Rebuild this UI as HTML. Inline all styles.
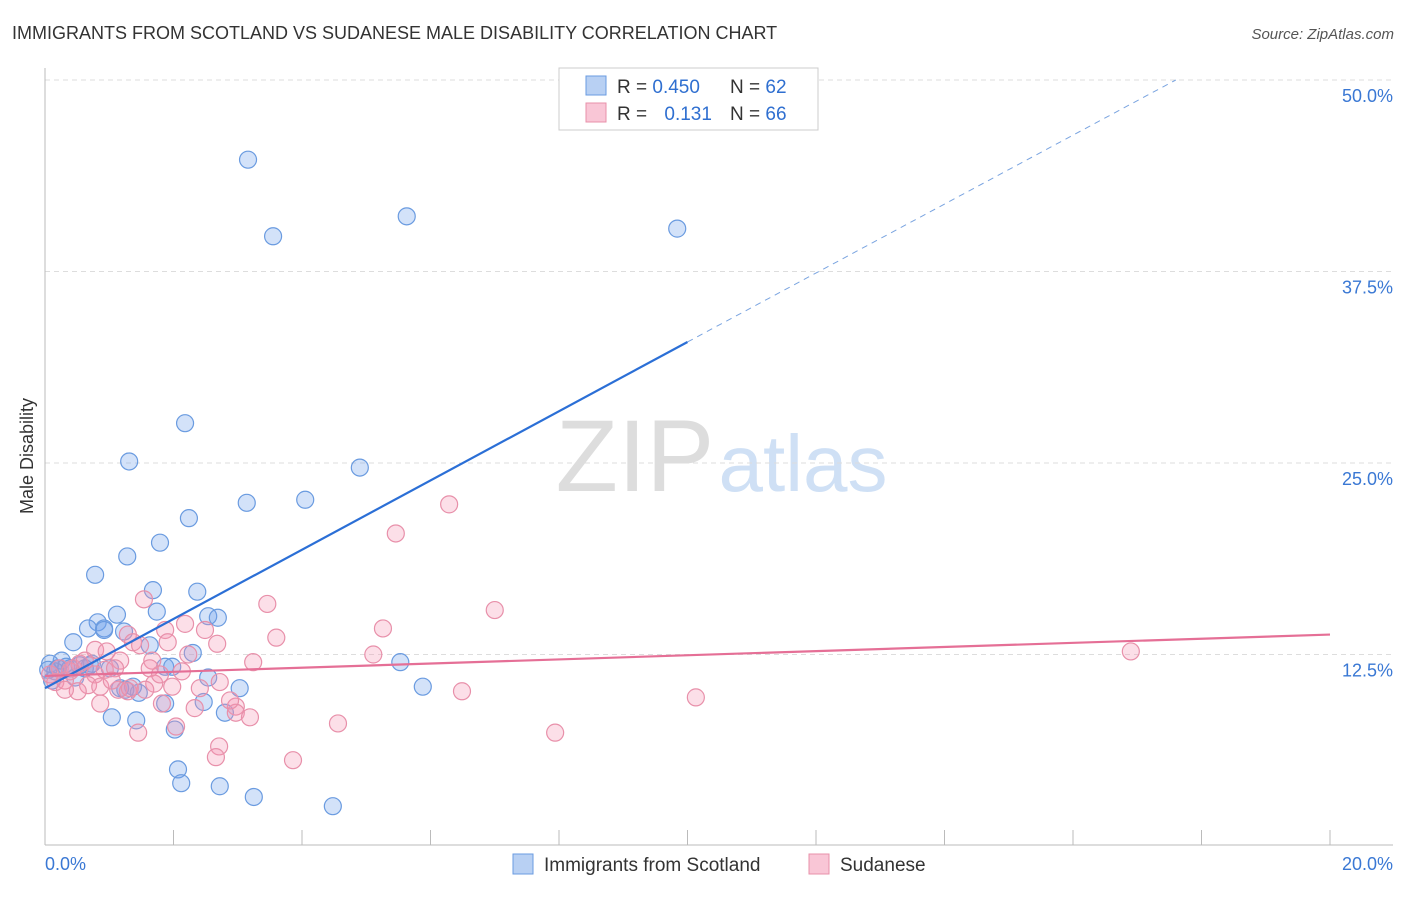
<!DOCTYPE html>
<html><head><meta charset="utf-8"><style>
body{margin:0;background:#fff;font-family:"Liberation Sans",sans-serif;}
svg text{font-family:"Liberation Sans",sans-serif;}
</style></head><body>
<svg id="chart" width="1406" height="892" viewBox="0 0 1406 892">
<text x="12" y="39" font-size="18" fill="#333">IMMIGRANTS FROM SCOTLAND VS SUDANESE MALE DISABILITY CORRELATION CHART</text>
<text x="1394" y="39" font-size="15" fill="#555" font-style="italic" text-anchor="end">Source: ZipAtlas.com</text>
<text transform="translate(33,456) rotate(-90)" font-size="18" fill="#333" text-anchor="middle">Male Disability</text>
<g>
<text x="635" y="491" font-size="102" fill="#ddd" font-family="Liberation Serif" text-anchor="middle">ZIP</text>
<text x="803" y="491" font-size="80" fill="#cfe0f5" text-anchor="middle">atlas</text>
</g>
<g id="grid"></g>
<g id="axes"></g>
<g id="trend"></g>
<g id="pts"></g>
<g>
<rect x="559" y="68" width="259" height="62" fill="#fff" stroke="#ccc"/>
<rect x="586" y="76" width="20" height="19" fill="#b8d0f3" stroke="#6a9be0"/>
<rect x="586" y="103" width="20" height="19" fill="#f9c6d6" stroke="#e890aa"/>
<text x="617" y="93" font-size="19" fill="#333">R = <tspan fill="#2f6fd0">0.450</tspan></text>
<text x="730" y="93" font-size="19" fill="#333">N = <tspan fill="#2f6fd0">62</tspan></text>
<text x="617" y="120" font-size="19" fill="#333">R = <tspan fill="#2f6fd0" dx="12">0.131</tspan></text>
<text x="730" y="120" font-size="19" fill="#333">N = <tspan fill="#2f6fd0">66</tspan></text>
</g>
<g>
<rect x="513" y="854" width="20" height="20" fill="#b8d0f3" stroke="#6a9be0"/>
<text x="544" y="871" font-size="19" fill="#333">Immigrants from Scotland</text>
<rect x="809" y="854" width="20" height="20" fill="#f9c6d6" stroke="#e890aa"/>
<text x="840" y="871" font-size="19" fill="#333">Sudanese</text>
</g>
</svg>
<script>
const yTicks=[12.5,25,37.5,50];
const yTickLabels=["12.5%","25.0%","37.5%","50.0%"];
const xTickLabels=["0.0%","20.0%"];
const blueX=[3.16,5.63,3.55,9.84,2.18,1.31,4.90,4.05,3.14,2.24,1.79,1.28,0.78,1.68,2.37,1.74,1.12,2.54,2.69,0.82,0.92,0.67,1.23,0.44,1.63,2.30,1.87,1.98,5.53,0.73,0.26,0.08,0.20,0.39,0.54,0.62,1.01,0.11,0.47,0.05,2.54,3.03,1.37,1.17,1.46,5.88,2.47,1.87,2.80,1.04,1.42,2.02,2.07,2.12,2.72,3.25,4.48,0.92,0.33,1.25,0.16,0.70];
const blueY=[44.8,41.1,39.8,40.3,27.6,25.1,24.7,22.6,22.4,21.4,19.8,18.9,17.7,16.7,16.6,15.3,15.1,15.0,14.9,14.6,14.2,14.2,14.0,13.3,13.1,12.6,11.7,11.7,12.0,11.9,12.1,11.9,11.6,11.6,11.8,11.6,11.6,10.8,11.0,11.5,11.0,10.3,10.4,10.3,10.0,10.4,9.4,9.3,8.7,8.4,8.2,7.6,5.0,4.1,3.9,3.2,2.6,14.1,11.7,10.2,11.4,11.8];
const pinkX=[6.29,5.46,3.46,7.00,1.54,2.18,5.26,1.87,2.49,3.60,1.29,1.37,1.91,0.78,0.96,2.68,1.67,1.17,5.11,16.90,3.24,2.13,1.63,0.54,0.23,0.39,0.78,0.93,1.09,0.08,0.16,0.31,0.67,0.86,1.70,1.98,2.72,1.14,1.29,1.56,0.51,6.49,10.13,0.86,1.82,2.33,2.97,2.97,3.19,2.04,1.45,4.56,7.94,2.71,2.66,3.86,1.48,1.04,1.32,0.44,2.41,2.23,1.79,0.62,0.31,2.88];
const pinkY=[22.3,20.4,15.8,15.4,16.1,14.5,14.2,14.1,14.1,13.6,13.8,13.3,13.3,12.8,12.7,13.2,12.1,12.1,12.5,12.7,12.0,11.4,11.6,11.9,11.6,11.4,11.2,11.5,11.6,11.2,10.7,10.8,10.5,10.4,10.6,10.4,10.7,10.2,10.1,10.2,10.1,10.1,9.7,9.3,9.3,9.0,9.1,8.7,8.4,7.8,7.4,8.0,7.4,6.5,5.8,5.6,13.1,10.8,10.3,11.6,10.3,12.5,11.2,12.1,10.2,9.5];
const blueTrend=[0,10.3,10,32.9,17.6,50];
const pinkTrend=[0,11.1,20,13.8];
const NS="http://www.w3.org/2000/svg";
const X=v=>45+v*64.25, Y=v=>846-v*15.32;
function mk(t,a,p){const e=document.createElementNS(NS,t);for(const k in a)e.setAttribute(k,a[k]);p.appendChild(e);return e;}
const grid=document.getElementById('grid'),axes=document.getElementById('axes'),trend=document.getElementById('trend'),pts=document.getElementById('pts');
yTicks.forEach((v,i)=>{
 const l=mk('line',{x1:45,x2:1393,y1:Y(v),y2:Y(v),stroke:'#ddd','stroke-dasharray':'5,4'},grid);
 
 
 const t=mk('text',{x:1393,y:Y(v)+22,'font-size':18,fill:'#3a78d4','text-anchor':'end'},grid);
 t.textContent=yTickLabels[i];
 
 
});
let a=mk('line',{x1:45,x2:45,y1:68,y2:845,stroke:'#bbb'},axes);


a=mk('line',{x1:45,x2:1393,y1:845,y2:845,stroke:'#bbb'},axes);


for(let v=2;v<=20;v+=2){const tk=mk('line',{x1:X(v),x2:X(v),y1:830,y2:845,stroke:'#bbb'},axes);
 
 }
[[0,'start',45],[20,'end',1393]].forEach((d,i)=>{const t=mk('text',{x:d[2],y:870,'font-size':18,fill:'#3a78d4','text-anchor':d[1]},axes);t.textContent=xTickLabels[i];
 
 });
function drawPts(xs,ys,fill,stroke,name){xs.forEach((x,i)=>{const c=mk('circle',{cx:X(x),cy:Y(ys[i]),r:8.5,fill:fill,stroke:stroke,'stroke-width':1.2},pts);
 
 });}
drawPts(blueX,blueY,'rgba(110,160,235,0.3)','#6a9be0','scotland-point');
drawPts(pinkX,pinkY,'rgba(245,150,180,0.3)','#e890aa','sudanese-point');
let tl=mk('line',{x1:X(blueTrend[0]),y1:Y(blueTrend[1]),x2:X(blueTrend[2]),y2:Y(blueTrend[3]),stroke:'#2b6fd6','stroke-width':2.2},trend);


tl=mk('line',{x1:X(blueTrend[2]),y1:Y(blueTrend[3]),x2:X(blueTrend[4]),y2:Y(blueTrend[5]),stroke:'#7aa4e0','stroke-width':1,'stroke-dasharray':'6,5'},trend);


tl=mk('line',{x1:X(pinkTrend[0]),y1:Y(pinkTrend[1]),x2:X(pinkTrend[2]),y2:Y(pinkTrend[3]),stroke:'#e56f96','stroke-width':2.2},trend);


document.getElementById('chart').appendChild(trend);
</script>
</body></html>
